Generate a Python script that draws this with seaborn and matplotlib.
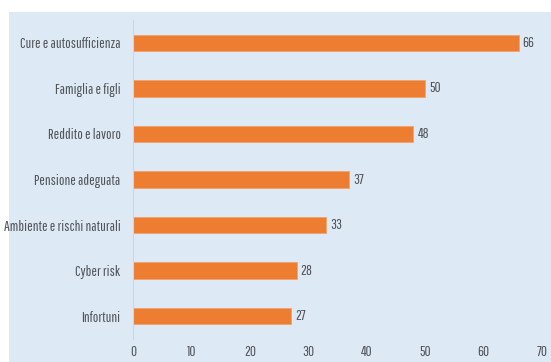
import matplotlib
matplotlib.use("Agg")
import matplotlib.pyplot as plt
import seaborn as sns
import pandas as pd
from matplotlib.patches import Rectangle

categories = ["Cure e autosufficienza", "Famiglia e figli", "Reddito e lavoro",
              "Pensione adeguata", "Ambiente e rischi naturali", "Cyber risk", "Infortuni"]
values = [66, 50, 48, 37, 33, 28, 27]
xticks = [0, 10, 20, 30, 40, 50, 60, 70]

df = pd.DataFrame({"cat": categories, "val": values})

sns.set_style("white")
plt.rcParams['font.family'] = ['Pathway Gothic One', 'DejaVu Sans']

bg = "#DDE9F5"
txt = "#505357"

fig = plt.figure(figsize=(5.51, 3.62), dpi=100)
fig.patches.append(Rectangle((9 / 551, 0), 1, 1 - 12 / 362, transform=fig.transFigure,
                             facecolor=bg, edgecolor="none", zorder=-10))
ax = fig.add_axes([133 / 551, 1 - 339 / 362, (542 - 133) / 551, (339 - 20) / 362])
ax.set_facecolor(bg)

sns.barplot(data=df, x="val", y="cat", color="#ED7D31", saturation=1, width=0.36,
            edgecolor="#F2A36B", linewidth=0.6, ax=ax)

for i, v in enumerate(values):
    ax.text(v + 0.7, i, str(v), va="center", ha="left", fontsize=10.5, color=txt)

ax.set_xlim(0, 70)
ax.set_ylim(6.5, -0.5)
ax.set_xticks(xticks)
ax.set_xlabel("")
ax.set_ylabel("")
ax.tick_params(axis="y", length=0, pad=9, labelsize=10.5, labelcolor=txt)
ax.tick_params(axis="x", length=0, pad=4, labelsize=10.5, labelcolor=txt)
for s in ["top", "right", "bottom"]:
    ax.spines[s].set_visible(False)
ax.spines["left"].set_color("#cfd6dd")
ax.spines["left"].set_linewidth(0.8)

fig.savefig("out.png", dpi=100)
